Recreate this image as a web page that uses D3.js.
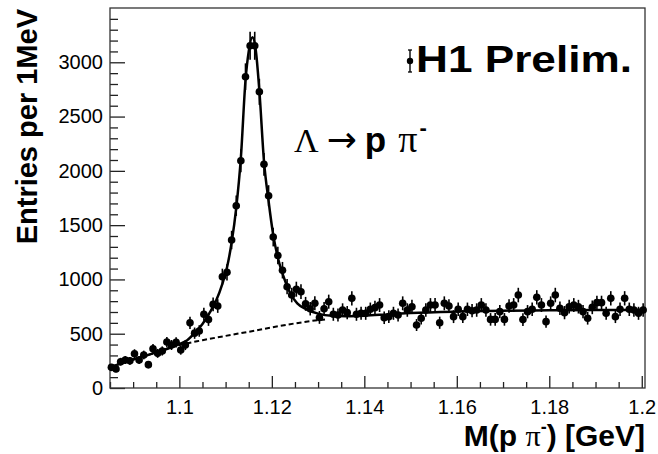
<!DOCTYPE html>
<html>
<head>
<meta charset="utf-8">
<script src="https://cdn.jsdelivr.net/npm/d3@7"></script>
<style>
  html, body { margin: 0; padding: 0; background: #fff; }
  svg { display: block; }
  text { fill: #000; }
</style>
</head>
<body>
<svg id="chart" width="658" height="454"></svg>
<script>
// ---- data ----
const binLow = 1.0848;      // lower edge of first 1 MeV bin (GeV)
const binWidth = 0.001;     // 1 MeV
const entries = [190,175,242,258,250,316,258,304,215,362,
  319,341,423,396,421,350,395,600,505,525,
  679,630,770,755,1025,1065,1363,1679,2093,2867,
  3152,3152,2728,2060,1771,1390,1220,1085,933,856,
  910,887,775,730,780,650,730,795,679,672,
  718,694,826,679,688,688,725,740,764,647,
  657,688,672,780,718,749,580,642,718,764,
  764,601,780,755,657,725,657,725,712,718,
  764,718,632,632,703,632,755,764,856,630,
  703,725,835,764,611,780,856,734,694,749,
  764,749,703,642,743,786,786,688,826,657,
  725,826,725,718,688,718];
const errors = [32,30,36,37,36,41,37,40,34,44,
  41,42,47,46,47,43,46,56,52,53,
  60,58,64,63,74,75,85,94,105,123,
  129,129,120,104,97,86,80,76,70,67,
  69,68,64,62,64,59,62,65,60,60,
  62,61,66,60,60,60,62,63,64,58,
  59,60,60,64,62,63,55,58,62,64,
  64,56,64,63,59,62,59,62,61,62,
  64,62,58,58,61,58,63,64,67,58,
  61,62,66,64,57,64,67,62,61,63,
  64,63,61,58,63,64,64,60,66,59,
  62,66,62,62,60,62];
// fit (signal + background)
const fitMass = [1.0850,1.0900,1.0950,1.1000,1.1017,1.1035,1.1050,1.1065,1.1080,1.1093,
  1.1103,1.1113,1.1123,1.1133,1.1143,1.1150,1.1158,1.1165,1.1173,1.1183,
  1.1193,1.1203,1.1213,1.1225,1.1239,1.1255,1.1275,1.1300,1.1330,1.1360,
  1.1400,1.1450,1.1500,1.1600,1.1700,1.1800,1.1900,1.2007];
const fitValue = [192,262,328,405,440,515,590,690,810,960,
  1110,1340,1660,2120,2830,3100,3230,3120,2740,2090,
  1720,1410,1200,1030,880,780,725,685,665,662,
  666,678,690,704,712,716,718,720];
// background component (dashed)
const bgMass = [1.085,1.090,1.095,1.100,1.105,1.110,1.115,1.120,1.125,1.130,1.1315];
const bgValue = [192,262,328,395,440,480,518,558,595,625,632];
// axis ticks
const xMajor = [1.1,1.12,1.14,1.16,1.18,1.2];
const xMinor = [1.085,1.09,1.095,1.105,1.11,1.115,1.125,1.13,1.135,1.145,1.15,1.155,1.165,1.17,1.175,1.185,1.19,1.195];
const yMajor = [0,500,1000,1500,2000,2500,3000];
const yMinor = [100,200,300,400,600,700,800,900,1100,1200,1300,1400,1600,1700,1800,1900,2100,2200,2300,2400,2600,2700,2800,2900,3100,3200,3300,3400];

// ---- drawing ----
const svg = d3.select("#chart");
const L = 110, R = 645, T = 8, B = 388;
const x = d3.scaleLinear().domain([1.085, 1.2007]).range([L, R]);
const y = d3.scaleLinear().domain([0, 3500]).range([B, T]);

svg.append("rect").attr("width", 658).attr("height", 454).attr("fill", "#fff");

const sans = "'Liberation Sans', Arial, Helvetica, sans-serif";
const serif = "'Liberation Serif', 'Times New Roman', serif";

// minor ticks
const gxMin = svg.append("g").attr("transform", `translate(0,${B})`)
  .call(d3.axisBottom(x).tickValues(xMinor).tickSize(-6).tickSizeOuter(0).tickFormat(""));
const gyMin = svg.append("g").attr("transform", `translate(${L},0)`)
  .call(d3.axisLeft(y).tickValues(yMinor).tickSize(-8).tickSizeOuter(0).tickFormat(""));
// major ticks
const gx = svg.append("g").attr("transform", `translate(0,${B})`)
  .call(d3.axisBottom(x).tickValues(xMajor).tickSize(-12).tickSizeOuter(0).tickPadding(12)
    .tickFormat(d => String(+d.toFixed(2))));
const gy = svg.append("g").attr("transform", `translate(${L},0)`)
  .call(d3.axisLeft(y).tickValues(yMajor).tickSize(-15).tickSizeOuter(0).tickPadding(7)
    .tickFormat(d3.format("d")));
[gxMin, gyMin, gx, gy].forEach(g => {
  g.select(".domain").remove();
  g.selectAll(".tick line").attr("stroke", "#222").attr("stroke-width", 1.3);
  g.selectAll("text").attr("font-family", sans).attr("font-size", 20).attr("fill", "#000");
});

// frame
svg.append("rect").attr("x", L).attr("y", T).attr("width", R - L).attr("height", B - T)
  .attr("fill", "none").attr("stroke", "#333").attr("stroke-width", 1.3);

// background (dashed)
const bgData = bgMass.map((m, i) => [m, bgValue[i]]);
svg.append("path").datum(bgData)
  .attr("d", d3.line().x(d => x(d[0])).y(d => y(d[1])).curve(d3.curveMonotoneX))
  .attr("fill", "none").attr("stroke", "#000").attr("stroke-width", 2)
  .attr("stroke-dasharray", "5,3");

// data points
const pts = entries.map((v, i) => ({ m: binLow + (i + 0.5) * binWidth, v, e: errors[i] }));
const gp = svg.append("g");
gp.selectAll("line.err").data(pts).join("line").attr("class", "err")
  .attr("x1", d => x(d.m)).attr("x2", d => x(d.m))
  .attr("y1", d => y(d.v - d.e)).attr("y2", d => y(d.v + d.e))
  .attr("stroke", "#000").attr("stroke-width", 1.6);
gp.selectAll("circle").data(pts).join("circle")
  .attr("cx", d => x(d.m)).attr("cy", d => y(d.v)).attr("r", 3.8).attr("fill", "#000");

// fit (solid)
const fitData = fitMass.map((m, i) => [m, fitValue[i]]);
svg.append("path").datum(fitData)
  .attr("d", d3.line().x(d => x(d[0])).y(d => y(d[1])).curve(d3.curveMonotoneX))
  .attr("fill", "none").attr("stroke", "#000").attr("stroke-width", 2.5);

// legend
const lgx = 410;
svg.append("line").attr("x1", lgx).attr("x2", lgx).attr("y1", 50).attr("y2", 72)
  .attr("stroke", "#000").attr("stroke-width", 1.4);
svg.append("line").attr("x1", lgx - 2).attr("x2", lgx + 2).attr("y1", 50).attr("y2", 50)
  .attr("stroke", "#000").attr("stroke-width", 1.3);
svg.append("line").attr("x1", lgx - 2).attr("x2", lgx + 2).attr("y1", 72).attr("y2", 72)
  .attr("stroke", "#000").attr("stroke-width", 1.3);
svg.append("circle").attr("cx", lgx).attr("cy", 61).attr("r", 3.2).attr("fill", "#000");
svg.append("text").attr("x", 416).attr("y", 72)
  .attr("font-family", sans).attr("font-weight", "bold").attr("font-size", 37)
  .attr("textLength", 216).attr("lengthAdjust", "spacingAndGlyphs")
  .text("H1 Prelim.");

// reaction label
const rx = svg.append("text").attr("x", 294).attr("y", 152).attr("font-size", 34);
rx.append("tspan").attr("font-family", serif).text("Λ");
rx.append("tspan").attr("font-family", "'DejaVu Sans', sans-serif").attr("font-size", 36).attr("dx", 8).text("→");
rx.append("tspan").attr("font-family", sans).attr("font-weight", "bold").attr("font-size", 35).attr("dx", 8).text("p");
rx.append("tspan").attr("font-family", serif).attr("font-size", 38).attr("dx", 12).text("π");
rx.append("tspan").attr("font-family", sans).attr("font-weight", "bold").attr("font-size", 22).attr("dy", -17).attr("dx", 2).text("-");

// x title
const xt = svg.append("text").attr("x", 645).attr("y", 446).attr("text-anchor", "end")
  .attr("font-family", sans).attr("font-weight", "bold").attr("font-size", 30);
xt.append("tspan").text("M(p ");
xt.append("tspan").attr("font-family", serif).attr("font-weight", "normal").text("π");
xt.append("tspan").attr("font-size", 18).attr("dy", -13).text("-");
xt.append("tspan").attr("dy", 13).text(") [GeV]");

// y title
svg.append("text").attr("transform", "translate(37,9) rotate(-90)")
  .attr("text-anchor", "end").attr("font-family", sans).attr("font-weight", "bold")
  .attr("font-size", 29).text("Entries per 1MeV");
</script>
</body>
</html>
